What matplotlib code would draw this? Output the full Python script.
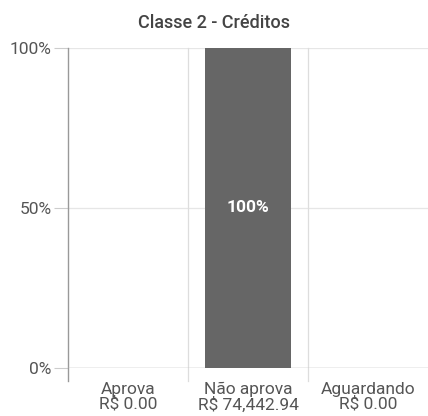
import matplotlib
matplotlib.use("Agg")
import matplotlib.pyplot as plt

plt.rcParams['font.family'] = ['Roboto', 'DejaVu Sans']

# data
categories = ["Aprova", "Não aprova", "Aguardando"]
amounts = ["R$ 0.00", "R$ 74,442.94", "R$ 0.00"]
shares = [0, 100, 0]
yticks = [0, 50, 100]

fig = plt.figure(figsize=(4.28, 4.16), dpi=100)
ax = fig.add_axes([68 / 428, 1 - 368 / 416, 1 - 68 / 428, 320 / 416])

x = list(range(len(categories)))
bars = ax.bar(x, shares, width=0.72, color="#666666", zorder=3)
for b, v in zip(bars, shares):
    if v > 0:
        ax.text(b.get_x() + b.get_width() / 2, v / 2, f"{v}%", color="white",
                ha="center", va="center", fontsize=12.5, fontweight="bold", zorder=4)

ax.set_xlim(-0.5, len(categories) - 0.5)
ax.set_ylim(0, 100)
ax.set_yticks(yticks)
ax.set_yticklabels([f"{t}%" for t in yticks])
ax.set_xticks(x)
ax.set_xticklabels([f"{c}\n{a}" for c, a in zip(categories, amounts)],
                   linespacing=0.95)

# horizontal grid
for t in yticks:
    ax.axhline(t, color="#e6e6e6", lw=0.9, zorder=1)
# category separators extending below axis
for s in [0.5, 1.5]:
    ax.axvline(s, ymin=-0.04, ymax=1, color="#dddddd", lw=0.9, zorder=1, clip_on=False)
ax.axvline(-0.5, ymin=-0.04, ymax=1, color="#999999", lw=1.0, zorder=2, clip_on=False)
ax.axhline(0, color="#bbbbbb", lw=1.0, zorder=2)

for sp in ax.spines.values():
    sp.set_visible(False)

ax.tick_params(axis="y", length=10, color="#cccccc", labelcolor="#555555",
               labelsize=12.5, pad=2)
ax.tick_params(axis="x", length=0, labelcolor="#555555", labelsize=12.5, pad=10)

# title centred on the whole figure
fig.text(0.5, 1 - 23 / 416, "Classe 2 - Créditos", fontsize=13, color="#444444",
         fontweight="medium", ha="center", va="center")

fig.savefig("out.png", dpi=100)
